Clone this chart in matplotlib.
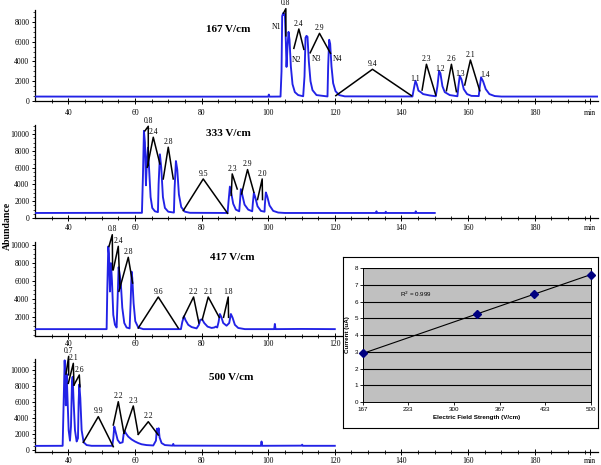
import numpy as np
import matplotlib
matplotlib.use('Agg')
import matplotlib.pyplot as plt
from matplotlib.ticker import FixedLocator, MultipleLocator

W, H = 601, 465

# ---------------- chromatogram traces (time [min], abundance) ----------------
t167 = [30, 60, 100.0, 100.2, 100.4, 103.7, 104.0, 104.2, 104.5, 104.8, 105.0, 105.3, 105.5, 105.8, 106.1,
        106.4, 106.8, 107.3, 108.0, 109.0, 110.5, 110.9, 111.2, 111.5, 111.8, 112.2, 112.7, 113.3, 114.5,
        117.8, 118.0, 118.3, 118.6, 119.0, 119.5, 120.2, 121.3, 123.0, 143.3, 143.7, 144.2, 144.6, 145.1,
        145.8, 146.5, 148.5, 150.3, 150.8, 151.3, 151.7, 152.3, 153.0, 154.5, 156.8, 157.1, 157.5, 158.0,
        158.7, 159.7, 161.0, 163.2, 163.5, 163.9, 164.5, 165.3, 166.4, 168.0, 170.0, 199.0]
a167 = [450, 440, 440, 650, 440, 450, 3000, 8600, 8900, 8700, 8800, 6000, 3450, 5500, 7000,
        6200, 3500, 1700, 900, 600, 480, 2500, 6400, 6600, 6500, 4000, 2000, 1100, 600,
        460, 3500, 6200, 5800, 3500, 1800, 1000, 600, 470, 460, 1200, 2050, 1700, 1050,
        900, 700, 560, 480, 1500, 3050, 2800, 1500, 900, 600, 480, 1500, 2550, 2200,
        1200, 700, 520, 500, 1400, 2400, 2000, 1200, 700, 500, 450, 450]

t333 = [30, 62.1, 62.4, 62.7, 63.0, 63.3, 63.6, 63.9, 64.3, 64.7, 65.2, 66.0, 66.9, 67.1, 67.5, 67.9,
        68.4, 69.0, 70.0, 71.7, 71.9, 72.3, 72.7, 73.2, 73.9, 75.0, 76.5, 87.8, 88.1, 88.5, 88.9, 89.5,
        90.3, 91.3, 91.5, 91.8, 92.2, 92.9, 94.0, 95.2, 95.4, 95.7, 96.1, 96.8, 97.8, 98.9, 99.0, 99.3,
        99.7, 100.4, 101.5, 103.0, 105.0, 132.3, 132.5, 132.7, 135.1, 135.3, 135.5, 144.1, 144.3, 144.5, 150.0]
a333 = [600, 620, 5000, 10400, 9000, 3900, 7000, 8400, 5500, 2500, 1200, 800, 700, 4000, 7600, 6000,
        2500, 1200, 750, 650, 3500, 6800, 5800, 2800, 1300, 750, 620, 600, 2000, 3750, 3000, 1700,
        1000, 800, 1800, 3450, 2800, 1600, 1000, 800, 1800, 3000, 2500, 1400, 850, 750, 1600, 3050,
        2600, 1500, 850, 650, 600, 600, 800, 600, 600, 750, 600, 600, 800, 600, 600]

t417 = [30, 51.5, 51.7, 52.0, 52.2, 52.5, 52.8, 53.1, 53.5, 54.0, 54.5, 54.8, 55.1, 55.5, 55.8, 56.2,
        56.8, 57.5, 58.4, 58.7, 59.0, 59.2, 59.6, 60.1, 61.0, 62.5, 73.8, 74.2, 74.7, 75.2, 76.0, 77.0,
        78.5, 79.2, 79.6, 80.2, 80.8, 81.8, 83.0, 83.8, 84.3, 84.7, 85.1, 85.5, 85.9, 86.5, 87.5, 88.3,
        88.8, 89.3, 90.0, 91.0, 93.0, 101.8, 102.0, 102.2, 110.0, 120.0]
a417 = [620, 620, 5000, 9800, 9000, 4800, 7950, 6000, 2200, 1100, 800, 4000, 7500, 6500, 5500, 3000,
        1300, 800, 700, 3500, 7000, 6300, 3500, 1500, 800, 620, 620, 1400, 2050, 1600, 1100, 850,
        700, 1100, 1650, 1700, 1300, 900, 750, 800, 900, 800, 1400, 2300, 2000, 1300, 1000, 1300,
        2300, 1900, 1100, 750, 620, 620, 1200, 620, 640, 620]

t500 = [30, 38.3, 38.6, 38.9, 39.1, 39.25, 39.5, 39.8, 40.1, 40.5, 40.8, 41.1, 41.3, 41.6, 42.0, 42.5,
        42.9, 43.1, 43.3, 43.6, 44.0, 44.6, 45.5, 47.0, 53.2, 53.5, 53.8, 54.2, 54.8, 55.5, 56.3, 56.6,
        56.9, 57.3, 58.0, 59.0, 60.0, 61.0, 62.0, 63.5, 65.5, 66.3, 66.6, 66.9, 67.1, 67.4, 68.0, 69.0,
        71.3, 71.5, 71.7, 97.8, 98.0, 98.2, 110.0, 110.2, 110.4, 120.0]
a500 = [550, 560, 6000, 11200, 9000, 5600, 9500, 6000, 2500, 1200, 3000, 8500, 9150, 6000, 2500, 1100,
        1500, 6000, 8200, 6500, 2500, 1000, 650, 560, 560, 1500, 2950, 2300, 1300, 900, 1000, 2000,
        2400, 2100, 1700, 1350, 1100, 900, 750, 650, 600, 1200, 2700, 2200, 2750, 1600, 900, 650,
        580, 800, 580, 560, 1100, 560, 580, 700, 560, 560]

# ---------------- resolution annotations (three-point "peaks" + value) ----------------
ann167_x = [[104.6, 105.3, 105.3], [107.7, 109.2, 110.7], [112.6, 115.4, 118.7], [120.3, 131.3, 143.0],
            [146.2, 147.5, 150.3], [153.5, 155.0, 156.5], [159.0, 160.7, 163.5]]
ann167_y = [[8900, 9350, 6600], [5330, 7290, 5230], [4880, 6850, 4830], [540, 3210, 540],
            [1110, 3720, 600], [1040, 3720, 940], [1620, 4150, 1040]]
ann167_lbl = ['0.8', '2.4', '2.9', '9.4', '2.3', '2.6', '2.1']

ann333_x = [[63.0, 64.0, 64.0], [63.7, 65.5, 67.5], [68.5, 70.0, 71.5], [74.5, 80.5, 87.8],
            [88.9, 89.2, 90.7], [92.0, 93.8, 95.7], [96.8, 98.2, 98.3]]
ann333_y = [[10400, 10950, 6260], [6060, 9640, 6450], [4660, 8450, 4660], [880, 4660, 560],
            [2700, 5260, 3460], [2870, 5780, 3070], [2200, 4660, 2200]]
ann333_lbl = ['0.8', '2.4', '2.8', '9.5', '2.3', '2.9', '2.0']

ann417_x = [[52.2, 53.2, 53.3], [53.5, 55.0, 55.5], [55.2, 58.0, 59.3], [61.0, 67.0, 73.0],
            [74.5, 77.6, 79.2], [80.2, 82.0, 85.3], [86.6, 88.0, 88.1]]
ann417_y = [[9800, 11110, 7220], [7220, 9820, 5190], [4820, 8600, 5740], [740, 4190, 740],
            [1860, 4190, 1300], [1670, 4190, 1930], [1930, 4190, 1930]]
ann417_lbl = ['0.8', '2.4', '2.8', '9.6', '2.2', '2.1', '1.8']

ann500_x = [[39.3, 40.1, 40.1], [40.0, 41.5, 41.7], [41.7, 43.3, 43.5], [44.5, 49.0, 53.5],
            [53.5, 55.0, 56.7], [56.7, 59.5, 61.0], [61.0, 64.0, 67.0]]
ann500_y = [[9500, 11700, 9400], [8340, 10830, 8130], [8130, 9380, 7920], [1000, 4190, 450],
            [3150, 6050, 2120], [2120, 5520, 1990], [1990, 3560, 1900]]
ann500_lbl = ['0.7', '2.1', '2.6', '9.9', '2.2', '2.3', '2.2']

# peak names in the 167 V/cm trace
names167 = ['N1', 'N2', 'N3', 'N4', '1.1', '1.2', '1.3', '1.4']
names167_x = [102.5, 108.5, 114.5, 120.7, 144.0, 151.5, 157.5, 165.0]
names167_y = [7460, 4150, 4220, 4220, 2200, 3240, 2730, 2630]

# ---------------- inset data ----------------
field = [167, 333, 417, 500]
current = [2.9, 5.25, 6.45, 7.6]
field_ticks = [167, 233, 300, 367, 433, 500]

panel_titles = ['167 V/cm', '333 V/cm', '417 V/cm', '500 V/cm']
x_tick_vals = [40, 60, 80, 100, 120, 140, 160, 180]
x_tick_lbls = ['40', '60', '80', '100', '120', '140', '160', '180']

# ---------------- drawing ----------------
SERIF = ['Liberation Serif', 'DejaVu Serif']
SANS = ['Liberation Sans', 'DejaVu Sans']
BLUE = '#2222e6'

fig = plt.figure(figsize=(W / 100, H / 100), dpi=100)


def px_axes(x0, y0, x1, y1, **kw):
    return fig.add_axes([x0 / W, 1 - y1 / H, (x1 - x0) / W, (y1 - y0) / H], **kw)


panels = [
    dict(box=(35, 10, 598, 101), ylim=(0, 9215), yt=[0, 2000, 4000, 6000, 8000], xpad=3.5,
         t=t167, a=a167, ax_=ann167_x, ay_=ann167_y, al=ann167_lbl, title_px=(228, 30)),
    dict(box=(35, 125, 598, 218), ylim=(0, 11100), yt=[0, 2000, 4000, 6000, 8000, 10000], xpad=2.5,
         t=t333, a=a333, ax_=ann333_x, ay_=ann333_y, al=ann333_lbl, title_px=(228, 134)),
    dict(box=(35, 242, 598, 336), ylim=(-144, 10300), yt=[2000, 4000, 6000, 8000, 10000], xpad=1.2,
         t=t417, a=a417, ax_=ann417_x, ay_=ann417_y, al=ann417_lbl, title_px=(232, 258)),
    dict(box=(35, 359, 598, 452), ylim=(-212, 11370), yt=[0, 2000, 4000, 6000, 8000, 10000], xpad=1.5,
         t=t500, a=a500, ax_=ann500_x, ay_=ann500_y, al=ann500_lbl, title_px=(231, 378)),
]

for i, p in enumerate(panels):
    ax = px_axes(*p['box'])
    ax.set_facecolor('none')
    ax.plot(p['t'], p['a'], color=BLUE, lw=1.35, zorder=3)
    for xs, ys, lb in zip(p['ax_'], p['ay_'], p['al']):
        ax.plot(xs, ys, color='black', lw=1.1, clip_on=False, zorder=4)
        ax.annotate(lb, xy=(xs[1], ys[1]), xytext=(0, 1.0), textcoords='offset points',
                    ha='center', va='bottom', fontsize=5.5, family=SERIF, annotation_clip=False)
    ax.set_xlim(30, 199)
    ax.set_ylim(*p['ylim'])
    ax.xaxis.set_major_locator(FixedLocator(x_tick_vals + [196.5]))
    ax.set_xticklabels(x_tick_lbls + ['min'])
    ax.xaxis.set_minor_locator(FixedLocator(np.arange(35, 199, 5)))
    ax.set_yticks(p['yt'])
    ax.set_yticklabels([str(v) for v in p['yt']])
    ax.yaxis.set_minor_locator(MultipleLocator(500))
    for s in ['top', 'right']:
        ax.spines[s].set_visible(False)
    for s in ['left', 'bottom']:
        ax.spines[s].set_linewidth(0.9)
    ax.tick_params(axis='both', which='major', labelsize=5.5, length=2.5, width=0.7, pad=1.5)
    ax.tick_params(axis='x', which='major', direction='inout', length=4, pad=p['xpad'])
    ax.tick_params(axis='x', which='minor', direction='inout', length=2.5, width=0.6)
    ax.tick_params(axis='y', which='minor', length=1.5, width=0.5)
    for lab in ax.get_xticklabels() + ax.get_yticklabels():
        lab.set_family(SERIF)
    tx, ty = p['title_px']
    fig.text(tx / W, 1 - ty / H, panel_titles[i], ha='center', va='center',
             fontsize=8, fontweight='bold', family=SERIF)
    if i == 0:
        for nm, nx, ny in zip(names167, names167_x, names167_y):
            ax.text(nx, ny, nm, ha='center', va='center', fontsize=5.5, family=SERIF)

fig.text(7 / W, 1 - 226 / H, 'Abundance', rotation=90, ha='center', va='center',
         fontsize=7, fontweight='bold', family=SERIF)

# ---------------- inset ----------------
box = px_axes(343, 257, 598, 428, zorder=10)
box.set_facecolor('white')
box.set_xticks([])
box.set_yticks([])
for s in box.spines.values():
    s.set_linewidth(0.8)

ins = px_axes(363, 268, 591, 402, zorder=11)
ins.set_facecolor('#c0c0c0')
ins.set_xlim(167, 500)
ins.set_ylim(0, 8)
for yv in range(1, 9):
    ins.axhline(yv, color='black', lw=0.8, zorder=1)
coef = np.polyfit(field, current, 1)
fx = np.array([field[0], field[-1]])
ins.plot(fx, np.polyval(coef, fx), color='black', lw=0.8, zorder=2)
ins.plot(field, current, linestyle='none', marker='D', markersize=4, color='#000080',
         clip_on=False, zorder=3)
ins.text(221, 6.4, 'R$^2$ = 0.999', fontsize=4.5, family=SANS, va='center', ha='left')
ins.set_xticks(field_ticks)
ins.set_xticklabels([str(v) for v in field_ticks])
ins.set_yticks(range(0, 9))
ins.tick_params(labelsize=4.5, length=2, width=0.6, pad=1.5)
for lab in ins.get_xticklabels() + ins.get_yticklabels():
    lab.set_family(SANS)
for s in ins.spines.values():
    s.set_linewidth(0.7)
ins.set_xlabel('Electric Field Strength (V/cm)', fontsize=4.5, fontweight='bold', family=SANS, labelpad=2)
ins.set_ylabel('Current (uA)', fontsize=4.5, fontweight='bold', family=SANS, labelpad=3)

fig.savefig('out.png', dpi=100)
